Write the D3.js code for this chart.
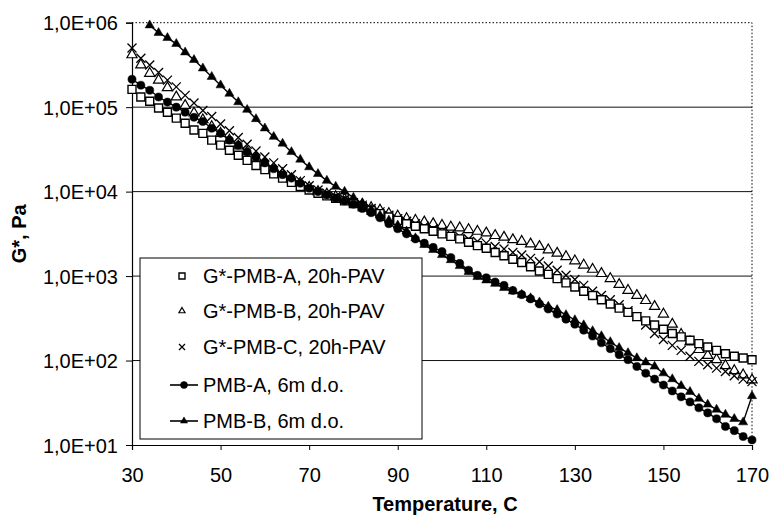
<!DOCTYPE html>
<html>
<head>
<meta charset="utf-8">
<script src="https://cdn.jsdelivr.net/npm/d3@7"></script>
<style>
  body { margin: 0; background: #fff; }
  svg { display: block; font-family: Arial, "Liberation Sans", sans-serif; }
  .tick text { font-size: 20px; fill: #000; }
  .axis-title { font-size: 20px; font-weight: bold; }
  .legend text { font-size: 20px; }
</style>
</head>
<body>
<div id="chart"></div>
<script>
// temperatures (C) for every reading
const temps = [30, 32, 34, 36, 38, 40, 42, 44, 46, 48, 50, 52, 54, 56, 58, 60, 62, 64, 66, 68,
  70, 72, 74, 76, 78, 80, 82, 84, 86, 88, 90, 92, 94, 96, 98, 100, 102, 104, 106, 108,
  110, 112, 114, 116, 118, 120, 122, 124, 126, 128, 130, 132, 134, 136, 138, 140, 142, 144, 146, 148,
  150, 152, 154, 156, 158, 160, 162, 164, 166, 168, 170];

// log10(G*, Pa)
const logPavA = [5.21, 5.12, 5.07, 4.99, 4.94, 4.87, 4.81, 4.73, 4.69, 4.61, 4.55, 4.49, 4.43, 4.37, 4.31, 4.26, 4.21, 4.16, 4.11, 4.06,
  4.02, 3.98, 3.95, 3.92, 3.89, 3.86, 3.82, 3.78, 3.74, 3.70, 3.66, 3.62, 3.59, 3.56, 3.53, 3.50, 3.47, 3.44, 3.40, 3.36,
  3.33, 3.28, 3.24, 3.20, 3.16, 3.11, 3.06, 3.02, 2.97, 2.92, 2.87, 2.82, 2.77, 2.72, 2.67, 2.62, 2.57, 2.52, 2.47, 2.42,
  2.37, 2.32, 2.28, 2.24, 2.20, 2.16, 2.12, 2.08, 2.05, 2.03, 2.01];
const logPavB = [5.62, 5.50, 5.40, 5.32, 5.23, 5.12, 5.02, 4.93, 4.85, 4.77, 4.69, 4.61, 4.54, 4.47, 4.40, 4.33, 4.27, 4.21, 4.15, 4.10,
  4.05, 4.00, 3.97, 3.94, 3.91, 3.88, 3.85, 3.81, 3.78, 3.74, 3.71, 3.68, 3.66, 3.64, 3.62, 3.60, 3.58, 3.57, 3.55, 3.53,
  3.51, 3.48, 3.46, 3.43, 3.41, 3.38, 3.35, 3.31, 3.27, 3.23, 3.18, 3.13, 3.08, 3.03, 2.97, 2.90, 2.83, 2.77, 2.71, 2.64,
  2.55, 2.43, 2.31, 2.22, 2.13, 2.06, 2.01, 1.94, 1.88, 1.83, 1.77];
const logPavC = [5.70, 5.58, 5.50, 5.41, 5.32, 5.24, 5.14, 5.05, 4.96, 4.89, 4.80, 4.72, 4.64, 4.56, 4.48, 4.41, 4.34, 4.27, 4.20, 4.13,
  4.07, 4.02, 3.98, 3.94, 3.91, 3.87, 3.84, 3.80, 3.76, 3.72, 3.68, 3.65, 3.62, 3.59, 3.56, 3.53, 3.50, 3.47, 3.44, 3.41,
  3.39, 3.35, 3.32, 3.28, 3.25, 3.21, 3.17, 3.12, 3.07, 3.01, 2.96, 2.89, 2.82, 2.77, 2.72, 2.66, 2.59, 2.52, 2.42, 2.32,
  2.25, 2.18, 2.12, 2.05, 1.99, 1.95, 1.91, 1.87, 1.82, 1.78, 1.75];
const logAged6mA = [5.33, 5.26, 5.20, 5.12, 5.06, 5.00, 4.94, 4.88, 4.83, 4.75, 4.69, 4.61, 4.55, 4.47, 4.41, 4.34, 4.27, 4.20, 4.16, 4.10,
  4.04, 4.00, 3.96, 3.92, 3.89, 3.85, 3.80, 3.75, 3.69, 3.62, 3.56, 3.50, 3.44, 3.39, 3.34, 3.29, 3.22, 3.15, 3.07, 3.01,
  2.98, 2.93, 2.89, 2.83, 2.78, 2.73, 2.67, 2.61, 2.55, 2.49, 2.43, 2.36, 2.29, 2.21, 2.14, 2.07, 2.01, 1.93, 1.85, 1.78,
  1.71, 1.64, 1.57, 1.51, 1.44, 1.38, 1.31, 1.22, 1.17, 1.10, 1.06];
const logAged6mB = [null, null, 5.97, 5.88, 5.82, 5.75, 5.65, 5.56, 5.46, 5.36, 5.26, 5.16, 5.06, 4.97, 4.86, 4.75, 4.65, 4.57, 4.47, 4.38,
  4.29, 4.21, 4.13, 4.06, 4.00, 3.93, 3.86, 3.79, 3.72, 3.66, 3.60, 3.53, 3.45, 3.37, 3.31, 3.25, 3.19, 3.12, 3.05, 2.99,
  2.95, 2.91, 2.86, 2.82, 2.78, 2.74, 2.69, 2.64, 2.60, 2.54, 2.48, 2.42, 2.35, 2.29, 2.22, 2.15, 2.09, 2.03, 1.98, 1.93,
  1.85, 1.78, 1.70, 1.63, 1.55, 1.48, 1.42, 1.36, 1.31, 1.27, 1.58];

const seriesNames = ["G*-PMB-A, 20h-PAV", "G*-PMB-B, 20h-PAV", "G*-PMB-C, 20h-PAV", "PMB-A, 6m d.o.", "PMB-B, 6m d.o."];
const xTicks = [30, 50, 70, 90, 110, 130, 150, 170];
const yTicks = [1e1, 1e2, 1e3, 1e4, 1e5, 1e6];

const W = 771, H = 520;
const plotLeft = 132, plotRight = 752, plotTop = 22.7, plotBottom = 445;

const svg = d3.select("#chart").append("svg")
  .attr("width", W).attr("height", H);

const x = d3.scaleLinear().domain([30, 170]).range([plotLeft, plotRight]);
const y = d3.scaleLog().domain([1e1, 1e6]).range([plotBottom, plotTop]);

// horizontal gridlines
svg.append("g")
  .selectAll("line")
  .data(yTicks.slice(1, -1))
  .enter()
  .append("line")
  .attr("x1", plotLeft).attr("x2", plotRight)
  .attr("y1", (d) => y(d)).attr("y2", (d) => y(d))
  .attr("stroke", "#111").attr("stroke-width", 1);

// dotted top and right border
svg.append("path")
  .attr("d", `M${plotLeft},${plotTop}H${plotRight}V${plotBottom}`)
  .attr("fill", "none").attr("stroke", "#000")
  .attr("stroke-width", 1).attr("stroke-dasharray", "1.5,2");

const fmtE = (d) => "1,0E+0" + Math.round(Math.log10(d));

const yAxis = svg.append("g")
  .attr("transform", `translate(${plotLeft},0)`)
  .call(d3.axisLeft(y).tickValues(yTicks).tickFormat(fmtE).tickSize(6).tickPadding(8));
const xAxis = svg.append("g")
  .attr("transform", `translate(0,${plotBottom})`)
  .call(d3.axisBottom(x).tickValues(xTicks).tickSize(5).tickPadding(18));
[xAxis, yAxis].forEach((a) => {
  a.select(".domain").attr("stroke", "#000").attr("stroke-width", 1.2);
  a.selectAll(".tick line").attr("stroke", "#000");
});
yAxis.selectAll(".tick text").attr("dy", "0.36em");

svg.append("text").attr("class", "axis-title")
  .attr("x", 445).attr("y", 511)
  .attr("text-anchor", "middle").text("Temperature, C");
svg.append("text").attr("class", "axis-title")
  .attr("transform", `translate(26,${(plotTop + plotBottom) / 2}) rotate(-90)`)
  .attr("text-anchor", "middle").text("G*, Pa");

function toPoints(vals) {
  return temps
    .map((t, i) => ({ t, g: vals[i] == null ? null : Math.pow(10, vals[i]) }))
    .filter((p) => p.g != null);
}

const triUp = d3.symbol().type(d3.symbolTriangle);
const plot = svg.append("g");

function drawMarkers(pts, kind, size) {
  const gSel = plot.append("g");
  const sel = gSel.selectAll("path").data(pts).enter().append("path")
    .attr("transform", (d) => `translate(${x(d.t)},${y(d.g)})`);
  styleMarker(sel, kind, size);
}

function styleMarker(sel, kind, size) {
  if (kind === "square") {
    sel.attr("d", `M${-size / 2},${-size / 2}h${size}v${size}h${-size}Z`)
      .attr("fill", "#fff").attr("stroke", "#000").attr("stroke-width", 1.4);
  } else if (kind === "openTri") {
    sel.attr("d", triUp.size(size * size * 0.45)())
      .attr("fill", "#fff").attr("stroke", "#000").attr("stroke-width", 1.2);
  } else if (kind === "cross") {
    const h = size / 2;
    sel.attr("d", `M${-h},${-h}L${h},${h}M${-h},${h}L${h},${-h}`)
      .attr("fill", "none").attr("stroke", "#000").attr("stroke-width", 1.3);
  } else if (kind === "dot") {
    sel.attr("d", d3.symbol().type(d3.symbolCircle).size(size * size * 0.8)())
      .attr("fill", "#000").attr("stroke", "#000").attr("stroke-width", 0.5);
  } else if (kind === "fillTri") {
    sel.attr("d", triUp.size(size * size * 0.45)())
      .attr("fill", "#000").attr("stroke", "#000").attr("stroke-width", 0.5);
  }
}

const line = d3.line().x((d) => x(d.t)).y((d) => y(d.g));

const pavA = toPoints(logPavA), pavB = toPoints(logPavB), pavC = toPoints(logPavC);
const agedA = toPoints(logAged6mA), agedB = toPoints(logAged6mB);

plot.append("path").datum(agedA).attr("d", line)
  .attr("fill", "none").attr("stroke", "#000").attr("stroke-width", 1.4);
plot.append("path").datum(agedB).attr("d", line)
  .attr("fill", "none").attr("stroke", "#000").attr("stroke-width", 1.4);

drawMarkers(pavB, "openTri", 10);
drawMarkers(pavC, "cross", 9);
drawMarkers(pavA, "square", 8);
drawMarkers(agedA, "dot", 8);
drawMarkers(agedB, "fillTri", 9);

// legend
const legend = svg.append("g").attr("class", "legend");
legend.append("rect")
  .attr("x", 140).attr("y", 258).attr("width", 282).attr("height", 181)
  .attr("fill", "#fff").attr("stroke", "#000").attr("stroke-width", 1);

const kinds = ["square", "openTri", "cross", "dot", "fillTri"];
const rowY = [276, 311, 347, 385, 421];
seriesNames.forEach((name, i) => {
  const row = legend.append("g").attr("transform", `translate(0,${rowY[i]})`);
  if (i >= 3) {
    row.append("line").attr("x1", 170).attr("x2", 198)
      .attr("y1", 0).attr("y2", 0).attr("stroke", "#000").attr("stroke-width", 1.6);
  }
  const m = row.append("path").attr("transform", `translate(${i >= 3 ? 184 : 182},0)`);
  styleMarker(m, kinds[i], i >= 3 ? 7 : 6);
  row.append("text").attr("x", 203).attr("y", 0).attr("dy", "0.36em").text(name);
});
</script>
</body>
</html>
